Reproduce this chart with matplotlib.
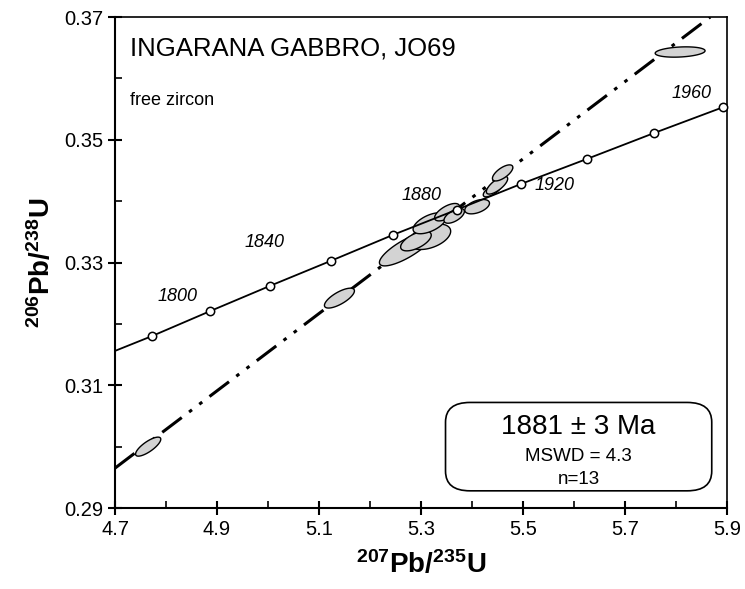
import numpy as np
import matplotlib
matplotlib.use('Agg')
import matplotlib.pyplot as plt
from matplotlib.patches import FancyBboxPatch, Polygon

plt.rcParams['font.family'] = ['Liberation Sans', 'DejaVu Sans']
plt.rcParams['mathtext.fontset'] = 'custom'
plt.rcParams['mathtext.bf'] = 'Liberation Sans:bold'
plt.rcParams['mathtext.rm'] = 'Liberation Sans'

# concordia markers, ages in Ma
ages = [1780, 1800, 1820, 1840, 1860, 1880, 1900, 1920, 1940, 1960]
conc_x = [4.772, 4.887, 5.004, 5.124, 5.245, 5.370, 5.496, 5.626, 5.757, 5.892]
conc_y = [0.3180, 0.3221, 0.3262, 0.3303, 0.3345, 0.3386, 0.3428, 0.3469, 0.3511, 0.3553]
# where the curve leaves the frame
conc_end_x = [4.70, 5.90]
conc_end_y = [0.3156, 0.3556]

# age labels
label_ages = ['1800', '1840', '1880', '1920', '1960']
label_x = [4.823, 4.994, 5.300, 5.562, 5.831]
label_y = [0.3245, 0.3333, 0.3410, 0.3426, 0.3576]

# discordia line
disc_x = [4.70, 5.867]
disc_y = [0.2965, 0.3700]

# zircon analyses: centre, x and y half-widths, correlation
ell_x = [4.765, 5.140, 5.270, 5.317, 5.290, 5.317, 5.351, 5.365, 5.410, 5.440, 5.449, 5.460, 5.808]
ell_y = [0.3000, 0.3242, 0.3322, 0.3342, 0.3335, 0.3364, 0.3382, 0.3376, 0.3391, 0.3418, 0.3426, 0.3446, 0.3643]
ell_sx = [0.0247, 0.0294, 0.0516, 0.0411, 0.0300, 0.0326, 0.0244, 0.0200, 0.0242, 0.0180, 0.0209, 0.0200, 0.0489]
ell_sy = [0.00155, 0.00162, 0.00275, 0.00208, 0.00160, 0.00171, 0.00142, 0.00120, 0.00117, 0.00110, 0.00145, 0.00131, 0.00084]
ell_rho = [0.78, 0.73, 0.80, 0.43, 0.60, 0.57, 0.64, 0.60, 0.48, 0.70, 0.73, 0.68, 0.24]

x_ticks = [4.7, 4.9, 5.1, 5.3, 5.5, 5.7, 5.9]
y_ticks = [0.29, 0.31, 0.33, 0.35, 0.37]

fig = plt.figure(figsize=(7.45, 5.89), dpi=100)
ax = fig.add_axes([0.1544, 0.1375, 0.8215, 0.8336])

# ellipses
t = np.linspace(0, 2 * np.pi, 100)
for cx, cy, sx, sy, r in zip(ell_x, ell_y, ell_sx, ell_sy, ell_rho):
    px = cx + sx * np.cos(t)
    py = cy + sy * (r * np.cos(t) + np.sqrt(1 - r ** 2) * np.sin(t))
    ax.add_patch(Polygon(np.column_stack([px, py]), closed=True,
                         facecolor='#d3d3d3', edgecolor='black', lw=1.0, zorder=3))

# discordia
ax.plot(disc_x, disc_y, color='black', lw=2.2,
        linestyle=(0, (8, 3, 1.2, 3, 1.2, 3)), zorder=2)

# concordia
cx_all = [conc_end_x[0]] + conc_x + [conc_end_x[1]]
cy_all = [conc_end_y[0]] + conc_y + [conc_end_y[1]]
ax.plot(cx_all, cy_all, color='black', lw=1.3, zorder=4)
ax.plot(conc_x, conc_y, 'o', ms=6, mfc='white', mec='black', mew=1.1, zorder=5,
        clip_on=False)
for s, x, y in zip(label_ages, label_x, label_y):
    ax.text(x, y, s, fontsize=13, style='italic', ha='center', va='center', zorder=6)

ax.set_xlim(4.7, 5.9)
ax.set_ylim(0.29, 0.37)
ax.set_xticks(x_ticks)
ax.set_xticks([4.8, 5.0, 5.2, 5.4, 5.6, 5.8], minor=True)
ax.set_yticks(y_ticks)
ax.set_yticks([0.30, 0.32, 0.34, 0.36], minor=True)
ax.set_xticklabels(['%.1f' % v for v in x_ticks])
ax.set_yticklabels(['%.2f' % v for v in y_ticks])
ax.tick_params(which='major', direction='inout', length=10, width=1.5, labelsize=14.5)
ax.tick_params(which='minor', direction='in', length=5, width=1.2)
for sp in ax.spines.values():
    sp.set_linewidth(1.5)
ax.spines['top'].set_linewidth(1.2)
ax.spines['right'].set_linewidth(1.2)

ax.set_xlabel(r'$\mathbf{^{207}Pb/^{235}U}$', fontsize=20, labelpad=8)
ax.set_ylabel(r'$\mathbf{^{206}Pb/^{238}U}$', fontsize=20, labelpad=6)

ax.text(0.025, 0.935, 'INGARANA GABBRO, JO69', transform=ax.transAxes,
        fontsize=18.5, va='center', ha='left')
ax.text(0.025, 0.83, 'free zircon', transform=ax.transAxes,
        fontsize=13, va='center', ha='left')

box = FancyBboxPatch((0.54, 0.035), 0.435, 0.18, transform=ax.transAxes,
                     boxstyle='round,pad=0,rounding_size=0.04',
                     facecolor='white', edgecolor='black', lw=1.2, zorder=7)
ax.add_patch(box)
ax.text(0.7575, 0.165, '1881 ± 3 Ma', transform=ax.transAxes, fontsize=20,
        ha='center', va='center', zorder=8)
ax.text(0.7575, 0.105, 'MSWD = 4.3', transform=ax.transAxes, fontsize=13.5,
        ha='center', va='center', zorder=8)
ax.text(0.7575, 0.058, 'n=13', transform=ax.transAxes, fontsize=13.5,
        ha='center', va='center', zorder=8)

fig.savefig('out.png', dpi=100)
